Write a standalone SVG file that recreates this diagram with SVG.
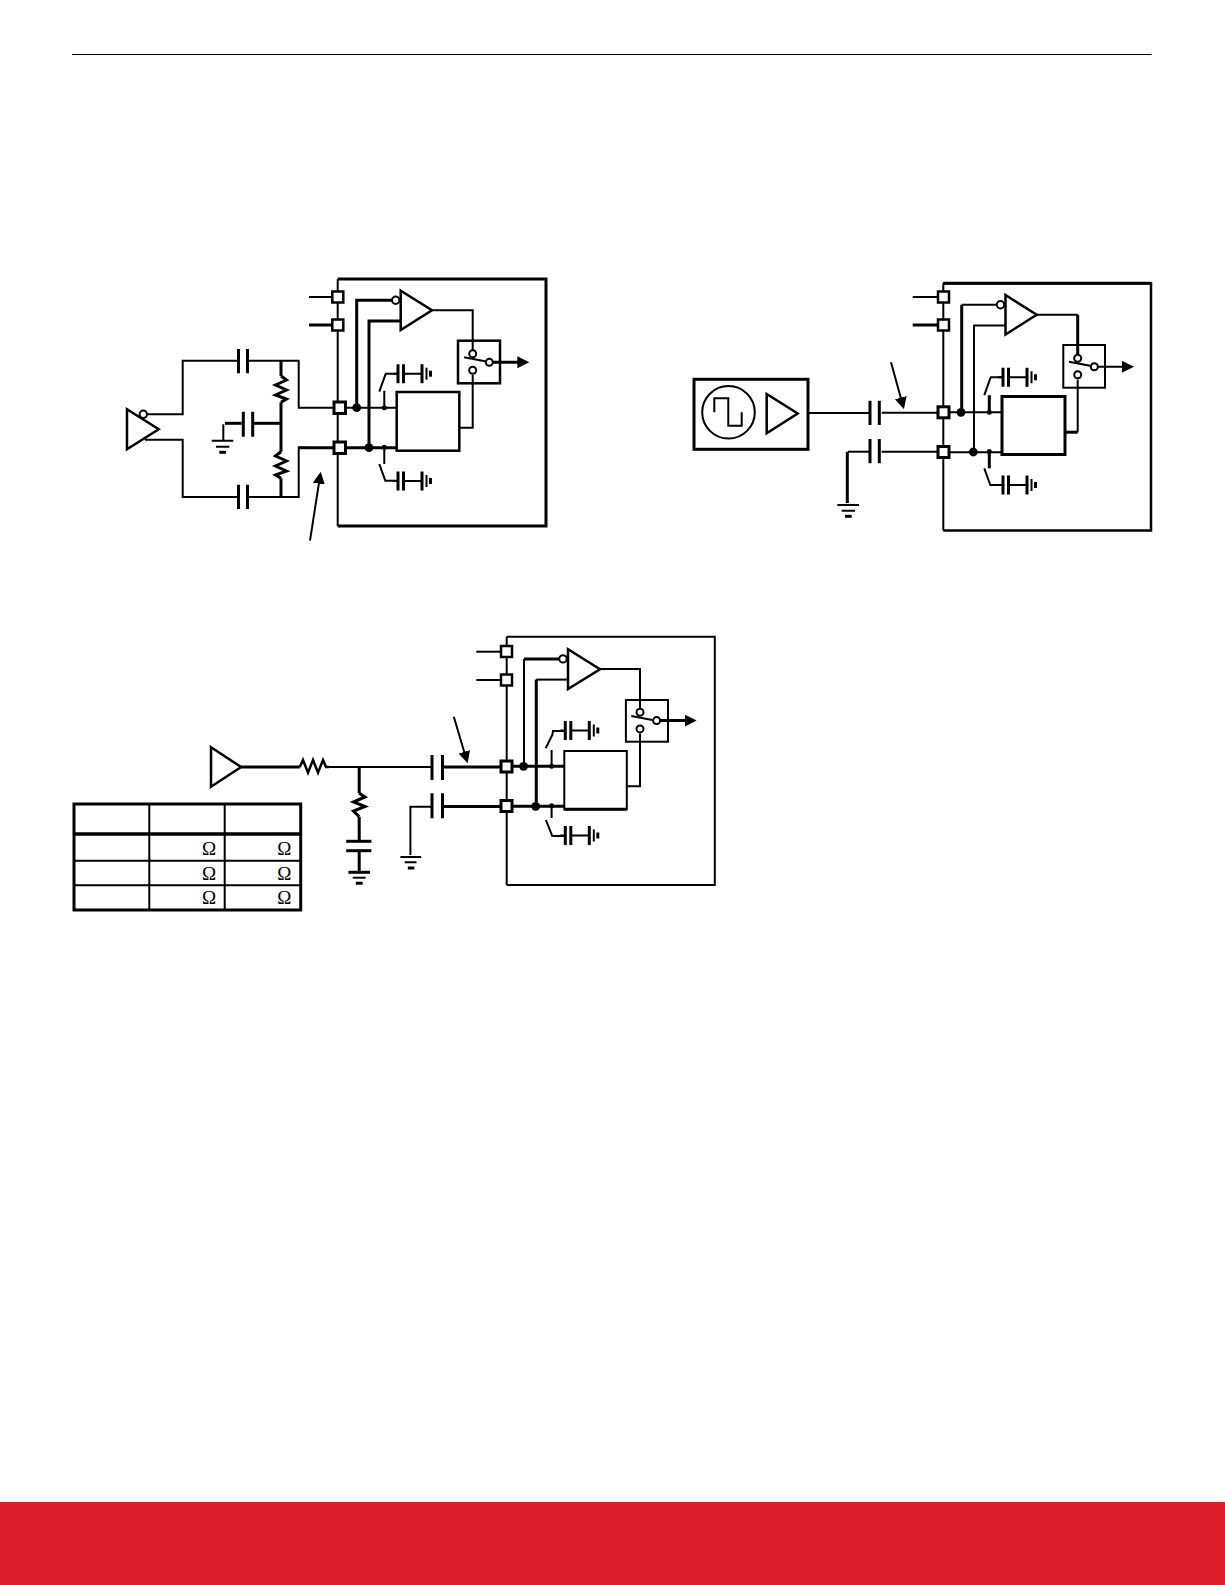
<svg xmlns="http://www.w3.org/2000/svg" width="1225" height="1585" viewBox="0 0 1225 1585">
<style>
.w{fill:none;stroke:#000;stroke-width:2;stroke-linejoin:miter}
.t{fill:none;stroke:#000;stroke-width:3;stroke-linejoin:miter}
.f{fill:#fff;stroke:#000;stroke-width:2.5;stroke-linejoin:miter}
.ft{fill:#fff;stroke:#000;stroke-width:3;stroke-linejoin:miter}
.b{fill:#fff;stroke:#000;stroke-width:2}
.d{fill:#000;stroke:none}
.o{font-family:"Liberation Serif",serif;font-size:19px;fill:#000;text-anchor:middle}
</style>
<defs>
<marker id="ah" markerUnits="userSpaceOnUse" markerWidth="14" markerHeight="12" refX="8" refY="6" orient="auto"><path d="M0 0L12 6L0 12Z" fill="#000"/></marker>
<g id="gndcap">
<path class="w" d="M0 0H5M11 0H29"/>
<path class="t" d="M5 -9.500V9.500M10.500 -9.500V9.500"/>
<path class="t" d="M29 -9.500V9.500"/>
<path class="w" d="M33.500 -6V6"/>
<path class="t" d="M37.500 -3V3"/>
</g>
</defs>
<rect id="page" width="1225" height="1585" fill="#fff"/>
<path id="rule" d="M72 54.500H1151.700" fill="none" stroke="#000" stroke-width="1"/>
<rect id="footer" x="0" y="1502" width="1225" height="83" fill="#da1f2a"/>

<g id="connectors">
<!-- diagram 1 input -->
<path class="w" d="M147.300 414.300H182.700V360.700H237.300"/>
<path class="w" d="M145 439.700H182.700V497H237.300"/>
<path class="w" d="M248 360.700H298.700V407.700H333"/>
<path class="w" d="M248 497H298.700V447.700H310"/>
<path class="t" d="M298 447.700H333"/>
<path class="t" d="M281 360.700V376M281 402.300V423M281 423V451.700M281 478.300V497"/>
<path class="t" d="M253.300 423.300H281"/>
<path class="t" d="M241.700 423.300H225"/>
<path class="w" d="M223.300 424.300V440"/>
<path class="w" d="M310 540.700L320.100 475.700" marker-end="url(#ah)"/>
<path class="w" d="M309 297H332"/>
<path class="t" d="M309 325H332"/>
<path class="w" d="M337.700 279V526"/>
<!-- diagram 1 receiver wires -->
<path class="t" d="M356.700 407.700V300.300H392"/>
<path class="t" d="M369 447.700V321H400.700"/>
<path class="w" d="M432 310.300H472.700V350"/>
<path class="w" d="M460 427.700H472.700V375"/>
<path class="w" d="M343 407.700H396.700"/>
<path class="t" d="M343 447.700H396.700"/>
<path class="t" d="M492 362.300H525.300" marker-end="url(#ah)"/>
<path class="w" d="M384.300 407.700V390.700M379.300 391.700L385.300 375L386 373.700H398"/>
<path class="w" d="M384.300 447.700V464M379.300 464L385.300 480.700H398"/>

<!-- diagram 2 -->
<path class="w" d="M755 412.300H766.700"/>
<path class="w" d="M797.700 413H869.300"/>
<path class="w" d="M881.700 412.700H938"/>
<path class="w" d="M881.700 451.700H938"/>
<path class="w" d="M869 451.700H848"/>
<path class="t" d="M847.300 451.700V503"/>
<path class="w" d="M891 362.300L902.900 405.400" marker-end="url(#ah)"/>
<path class="w" d="M912.700 297H938"/>
<path class="t" d="M912.700 325H938"/>
<path class="w" d="M943.300 283.300V530.500"/>
<path class="t" d="M961.700 412.300V304.800"/>
<path class="w" d="M961.700 304.800H997"/>
<path class="w" d="M974 452.200V325.500H1005.700"/>
<path class="w" d="M1037 314.800H1077.700"/>
<path class="t" d="M1077.700 314.800V354.500"/>
<path class="t" d="M1065 432.200H1077.700"/>
<path class="w" d="M1077.700 432.200V379.500"/>
<path class="w" d="M949 412.300H1001.700"/>
<path class="w" d="M949 452.200H1001.700"/>
<path class="w" d="M1097 366.800H1130" marker-end="url(#ah)"/>
<path class="t" d="M989.300 412.200V395.200"/>
<path class="w" d="M984.300 395.200L990.300 378.500L991 377.300H1003"/>
<path class="t" d="M989.300 452.200V468.300"/>
<path class="w" d="M984.300 468.300L990.300 485H1003"/>

<!-- diagram 3 -->
<path class="t" d="M241.100 767H299.800"/>
<path class="w" d="M329 767H431"/>
<path class="t" d="M443.800 767H500"/>
<path class="t" d="M443.800 806.500H500"/>
<path class="w" d="M431 806.700H410.400V855"/>
<path class="t" d="M359.200 767V793.300M359.200 816.700V841M359.200 851V872"/>
<path class="w" d="M453.800 716.700L466.500 759.500" marker-end="url(#ah)"/>
<path class="w" d="M476.300 651.700H500"/>
<path class="w" d="M476.300 680H500"/>
<path class="w" d="M506.700 636.700V885"/>
<path class="w" d="M524 766.300V658.900"/>
<path class="t" d="M524 658.900H559.300"/>
<path class="t" d="M536.300 806.300V679.600"/>
<path class="w" d="M536.300 679.600H568"/>
<path class="w" d="M599.300 668.900H640V708.600"/>
<path class="w" d="M627.300 786.300H640V733.600"/>
<path class="t" d="M512 766.300H564"/>
<path class="t" d="M512 806.300H564"/>
<path class="t" d="M659.300 720.600H692.600" marker-end="url(#ah)"/>
<path class="w" d="M551.600 766.300V750M545.700 748.300L552.300 735L553 731H565"/>
<path class="w" d="M551.600 806.300V818M545.900 820L552.300 836H565"/>
</g>

<!-- Diagram 1 nodes -->
<g id="d1-driver">
<path class="f" d="M127 409.300V449.300L158.700 429.300Z"/>
<circle class="b" cx="143.300" cy="414.300" r="3.700"/>
</g>
<g id="d1-cap-top"><path class="t" d="M238.500 349V373.300M247.500 349V373.300"/></g>
<g id="d1-cap-bot"><path class="t" d="M238.500 484.700V509M247.500 484.700V509"/></g>
<g id="d1-cap-mid"><path class="t" d="M243.300 411.700V436.700M252.700 411.700V436.700"/></g>
<g id="d1-res-top"><path class="t" d="M281 376L286.500 380L275.500 385L286.500 390L275.500 395L286.500 399L281 402.300"/></g>
<g id="d1-res-bot"><path class="t" d="M281 451.700L275.500 456L286.500 461L275.500 466L286.500 471L275.500 475L281 478.300"/></g>
<g id="d1-gnd"><path class="w" d="M211.700 440.700H233.300M216 446.700H229.300"/><path class="t" d="M219.300 452.300H226"/></g>
<g id="d1-ic">
<path class="t" d="M337.700 279H546V526H337.700"/>
<rect class="f" x="332.300" y="291.500" width="11" height="11"/>
<rect class="f" x="332.300" y="319.500" width="11" height="11"/>
<rect class="ft" x="334" y="402" width="11.500" height="11.500"/>
<rect class="ft" x="334" y="442" width="11.500" height="11.500"/>
<circle class="d" cx="356.700" cy="407.700" r="4.400"/>
<circle class="d" cx="369" cy="447.700" r="4.400"/>
<circle class="d" cx="384.300" cy="407.700" r="2.500"/>
<circle class="d" cx="384.300" cy="447.200" r="2.500"/>
<use href="#gndcap" x="393" y="373.700"/>
<use href="#gndcap" x="393" y="481"/>
</g>
<g id="d1-amp">
<path class="f" d="M400.700 290.700V330L432 310.300Z"/>
<circle class="b" cx="395.700" cy="300.300" r="3.700"/>
</g>
<g id="d1-switch">
<rect x="458" y="340.700" width="42" height="42.600" fill="none" stroke="#000" stroke-width="2.500"/>
<path class="w" d="M464 357.300L485 361.300"/>
<circle class="b" cx="472.700" cy="353.700" r="3.500"/>
<circle class="b" cx="472.700" cy="370.300" r="3.500"/>
<circle class="b" cx="489.300" cy="362.300" r="3.500"/>
</g>
<g id="d1-compare"><rect x="396.700" y="392" width="62.600" height="58.700" fill="#fff" stroke="#000" stroke-width="2.500"/></g>

<!-- Diagram 2 nodes -->
<g id="d2-source">
<rect class="ft" x="694" y="379.300" width="114" height="70"/>
<circle class="w" cx="728.500" cy="412.300" r="26.300"/>
<path class="w" d="M714.300 412.300V398.300H728.300V425.700H741.700V412.300"/>
<path class="f" d="M766.700 394V433.300L797.700 413.500Z"/>
</g>
<g id="d2-cap-top"><path class="t" d="M870 400.700V425M879.300 400.700V425"/></g>
<g id="d2-cap-bot"><path class="t" d="M870 439V463.300M879.300 439V463.300"/></g>
<g id="d2-gnd"><path class="w" d="M837.300 505H859M841.700 510.700H855"/><path class="t" d="M845 516.300H851.700"/></g>
<g id="d2-ic">
<path class="f" style="fill:none" d="M943.300 283.300H1151V530.500H943.300"/>
<path class="t" d="M943.300 283.300H1151"/>
<rect class="f" x="938" y="291.500" width="11" height="11"/>
<rect class="f" x="938" y="319.500" width="11" height="11"/>
<rect class="ft" x="938" y="406.800" width="11" height="11"/>
<rect class="ft" x="938" y="446.500" width="11" height="11"/>
<circle class="d" cx="961" cy="412.300" r="4.400"/>
<circle class="d" cx="973.300" cy="452" r="4.400"/>
<circle class="d" cx="989.300" cy="412.300" r="2.500"/>
<circle class="d" cx="989.300" cy="451.500" r="2.500"/>
<use href="#gndcap" x="998" y="377.300"/>
<use href="#gndcap" x="998" y="485"/>
</g>
<g id="d2-amp">
<path class="f" d="M1005.500 295V334.500L1036.700 314.800Z"/>
<circle class="b" cx="1000.500" cy="304.800" r="3.700"/>
</g>
<g id="d2-switch">
<rect x="1063.300" y="345" width="41.700" height="42.700" fill="none" stroke="#000" stroke-width="2"/>
<path class="w" d="M1069 361.800L1090 365.800"/>
<circle class="b" cx="1077.700" cy="358.200" r="3.500"/>
<circle class="b" cx="1077.700" cy="374.800" r="3.500"/>
<circle class="b" cx="1094.300" cy="366.800" r="3.500"/>
</g>
<g id="d2-compare"><rect x="1002" y="396.500" width="63" height="58" fill="#fff" stroke="#000" stroke-width="3"/></g>

<!-- Diagram 3 nodes -->
<g id="d3-driver"><path class="f" d="M211 747.300V786.700L241.100 767Z"/></g>
<g id="d3-res-h"><path class="t" style="stroke-width:2.500" d="M299.800 767L303 760L308 772.700L313 760L318 772.700L323 760L326 767H329"/></g>
<g id="d3-cap-top"><path class="t" d="M432 755V780M442.500 755V780"/></g>
<g id="d3-cap-bot"><path class="t" d="M432 793.300V818.300M442.500 793.300V818.300"/></g>
<g id="d3-res-v"><path class="t" d="M359.200 793.300L365 797L353.500 802L365 806.500L353.500 811L359.200 816.700"/></g>
<g id="d3-cap-shunt"><path class="t" d="M346.200 841.300H371.400"/><path class="t" d="M346.200 850.700H371.400"/></g>
<g id="d3-gnd-a"><path class="t" d="M348.400 872.300H370"/><path class="w" d="M352.700 877.700H365.700"/><path class="t" d="M355.800 883.200H362.700"/></g>
<g id="d3-gnd-b"><path class="w" d="M400.400 857H421.200M404.700 862.300H416.500"/><path class="t" d="M407.800 868H414.300"/></g>
<g id="d3-ic">
<path class="w" d="M506.700 636.700H714.800V885H506.700"/>
<rect class="f" x="501" y="646" width="11" height="11"/>
<rect class="f" x="501" y="674.500" width="11" height="11"/>
<rect class="ft" x="501" y="761" width="11" height="11"/>
<rect class="ft" x="501" y="800.500" width="11" height="11"/>
<circle class="d" cx="523.600" cy="766.300" r="4.400"/>
<circle class="d" cx="535.700" cy="806.300" r="4.400"/>
<circle class="d" cx="551.600" cy="766.300" r="2.500"/>
<circle class="d" cx="551.600" cy="805.800" r="2.500"/>
<use href="#gndcap" x="560.300" y="730.500"/>
<use href="#gndcap" x="560.300" y="835.500"/>
</g>
<g id="d3-amp">
<path class="f" d="M568 649.300V689L600 669.300Z"/>
<circle class="b" cx="563" cy="658.900" r="3.700"/>
</g>
<g id="d3-switch">
<rect x="625.900" y="700" width="42.100" height="41.700" fill="none" stroke="#000" stroke-width="2"/>
<path class="w" d="M631.300 715.900L652.300 719.900"/>
<circle class="b" cx="640" cy="712.300" r="3.500"/>
<circle class="b" cx="640" cy="728.900" r="3.500"/>
<circle class="b" cx="656.600" cy="720.600" r="3.500"/>
</g>
<g id="d3-compare"><path fill="#fff" stroke="#000" stroke-width="2" d="M564.300 751H626.800V809.300H564.300Z"/><path class="t" d="M564.300 809.300H626.800"/></g>

<g id="table">
<path class="w" d="M149.300 804V910M224.700 804V910"/>
<path class="w" d="M74 860.700H300.700M74 885.300H300.700"/>
<path d="M74 834H300.700" fill="none" stroke="#000" stroke-width="3.500"/>
<rect x="74" y="804" width="226.700" height="106" fill="none" stroke="#000" stroke-width="3"/>
<text class="o" x="209" y="855">Ω</text><text class="o" x="284.300" y="855">Ω</text>
<text class="o" x="209" y="879.500">Ω</text><text class="o" x="284.300" y="879.500">Ω</text>
<text class="o" x="209" y="904">Ω</text><text class="o" x="284.300" y="904">Ω</text>
</g>
</svg>
